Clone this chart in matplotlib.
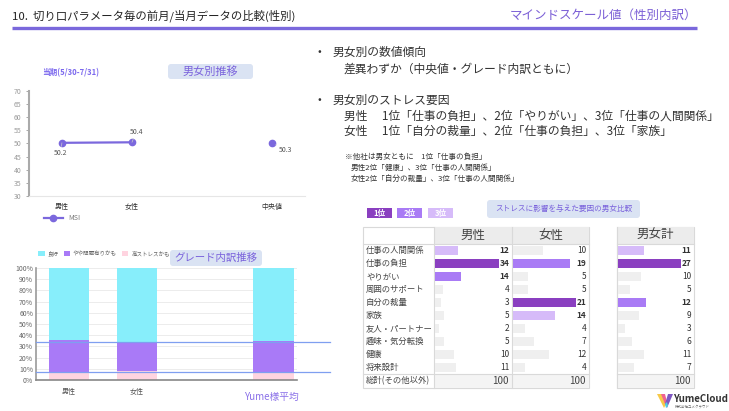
import numpy as np
import matplotlib
matplotlib.use("Agg")
import matplotlib.pyplot as plt
from matplotlib.patches import FancyBboxPatch, Rectangle, Polygon
from matplotlib.transforms import blended_transform_factory

plt.rcParams['font.family'] = ['Noto Sans CJK JP', 'DejaVu Sans']

W, H = 729, 411

# 男女別推移 (MSI)
line_cats = ['男性', '女性', '中央値']
line_x = [0, 1, 3]
msi_gender = [50.2, 50.4]
msi_median = 50.3

# グレード内訳 (%)
grade_cats = ['男性', '女性', '']
grade_x = [0, 1, 3]
grade_high = [7, 8, 7]
grade_mid = [29, 26, 28]
grade_good = [64, 66, 65]
avg_lines = [34, 7]

# ストレスに影響を与えた要因
factors = ['仕事の人間関係', '仕事の負担', 'やりがい', '周囲のサポート', '自分の裁量',
           '家族', '友人・パートナー', '趣味・気分転換', '健康', '将来設計']
male = [12, 34, 14, 4, 3, 5, 2, 5, 10, 11]
female = [10, 19, 5, 5, 21, 14, 4, 7, 12, 4]
total = [11, 27, 10, 5, 12, 9, 3, 6, 11, 7]
col_totals = [100, 100, 100]

PURPLE = '#7b68dd'
RANK_COLORS = ['#8a3fc0', '#a97bf5', '#d6bbf9']
GRAY_BAR = '#efefef'
BORDER = '#d9d9d9'

fig = plt.figure(figsize=(W / 100, H / 100), dpi=100)
fig.patch.set_facecolor('white')


def ax_px(x0, y0, x1, y1):
    a = fig.add_axes([x0 / W, 1 - y1 / H, (x1 - x0) / W, (y1 - y0) / H])
    a.patch.set_alpha(0)
    return a


ov = fig.add_axes([0, 0, 1, 1], zorder=0)
ov.set_xlim(0, W)
ov.set_ylim(H, 0)
ov.axis('off')


def box(x0, y0, x1, y1, text, fs, color='#7a62dc'):
    ov.add_patch(FancyBboxPatch((x0, y0), x1 - x0, y1 - y0,
                                boxstyle='round,pad=0,rounding_size=3',
                                fc='#dae3f3', ec='none', zorder=3))
    ov.text((x0 + x1) / 2, (y0 + y1) / 2, text, fontsize=fs, color=color,
            ha='center', va='center', zorder=4)


# header
ov.text(12, 16, '10.  切り口パラメータ毎の前月/当月データの比較(性別)', fontsize=8.2,
        color='#222222', va='center')
ov.text(697, 15, 'マインドスケール値（性別内訳）', fontsize=9, color='#7b5fd6',
        ha='right', va='center')
ov.plot([12, 697], [28, 28], color='#7a68dc', lw=2.4, solid_capstyle='butt')

# ---- line chart
ax1 = ax_px(29, 90.7, 305, 196)
ax1.plot(line_x[:2], msi_gender, '-o', color=PURPLE, lw=1.6, ms=4.5, label='MSI')
ax1.plot(line_x[2:], [msi_median], 'o', color=PURPLE, ms=4.5)
ax1.set_xlim(-0.47, 3.47)
ax1.set_ylim(30, 70)
ax1.set_yticks(np.arange(30, 71, 5))
ax1.set_xticks(line_x)
ax1.set_xticklabels(line_cats, fontsize=5, color='#333333')
ax1.tick_params(axis='x', length=0, pad=5)
ax1.tick_params(axis='y', labelsize=5, colors='#9a9a9a', length=2, width=0.6)
for s in ['top', 'right']:
    ax1.spines[s].set_visible(False)
ax1.spines['left'].set_color('#aaaaaa')
ax1.spines['left'].set_linewidth(1.5)
ax1.spines['bottom'].set_color('#e6e6e6')
ann = dict(fontsize=5, color='#555555', ha='center', va='center',
           textcoords='offset points',
           arrowprops=dict(arrowstyle='-', color='#cccccc', lw=0.5, shrinkA=0, shrinkB=3))
ax1.annotate(f'{msi_gender[0]}', xy=(line_x[0], msi_gender[0]), xytext=(-1, -7.5), **ann)
ax1.annotate(f'{msi_gender[1]}', xy=(line_x[1], msi_gender[1]), xytext=(3, 7.5), **ann)
ax1.annotate(f'{msi_median}', xy=(line_x[2], msi_median), xytext=(10, -5.5), **ann)
ax1.legend(loc='center left', bbox_to_anchor=(0.03, -0.21), frameon=False,
           fontsize=5, handlelength=2.8, labelcolor='#777777')

box(168, 64, 253, 79, '男女別推移', 8)
ov.text(42, 73, '当期(5/30-7/31)', fontsize=5.5, color='#7b68ee', weight='bold',
        va='center')

# ---- stacked bar chart
ax2 = ax_px(36, 268, 297, 380)
b1 = ax2.bar(grade_x, grade_high, width=0.6, color='#ffd4e0', zorder=2)
b2 = ax2.bar(grade_x, grade_mid, width=0.6, bottom=grade_high, color='#a97af7', zorder=2)
b3 = ax2.bar(grade_x, grade_good, width=0.6,
             bottom=np.add(grade_high, grade_mid), color='#87eefb', zorder=2)
ax2.set_xlim(-0.485, 3.35)
ax2.set_ylim(0, 100)
ax2.set_yticks(np.arange(0, 101, 10))
ax2.set_yticklabels([f'{v}%' for v in range(0, 101, 10)])
ax2.set_xticks(grade_x[:2])
ax2.set_xticklabels(grade_cats[:2], fontsize=5, color='#555555')
ax2.tick_params(axis='x', length=0, pad=6)
ax2.tick_params(axis='y', labelsize=5, colors='#666666', length=0, pad=2)
ax2.grid(axis='y', color='#ececec', lw=0.7, zorder=0)
for s in ['top', 'right']:
    ax2.spines[s].set_visible(False)
ax2.spines['left'].set_color('#999999')
ax2.spines['left'].set_linewidth(1.2)
ax2.spines['bottom'].set_color('#888888')
ax2.spines['bottom'].set_linewidth(1.2)
for v in avg_lines:
    ax2.axhline(v, xmin=0, xmax=(330 - 36) / 261, color='#7f9ff0', lw=0.9,
                clip_on=False, zorder=4)
ax2.legend([b3, b2, b1], ['良好', 'やや問題有りかも', '高ストレスかも'],
           loc='center left', bbox_to_anchor=(-0.01, 1.13), ncol=3, frameon=False,
           fontsize=4, handlelength=1.1, handleheight=1.1, columnspacing=1.0,
           handletextpad=0.5, labelcolor='#666666')
box(170, 250, 262, 266, 'グレード内訳推移', 7.5)
ov.text(271, 397, 'Yume様平均', fontsize=7, color='#8a70e8', ha='center', va='center')

# ---- bullet texts
fs = 8.5
ov.text(318, 52, '•', fontsize=8, va='center', color='#333333')
ov.text(333, 52, '男女別の数値傾向', fontsize=fs, va='center', color='#333333')
ov.text(344, 69, '差異わずか（中央値・グレード内訳ともに）', fontsize=fs, va='center', color='#333333')
ov.text(318, 100, '•', fontsize=8, va='center', color='#333333')
ov.text(333, 100, '男女別のストレス要因', fontsize=fs, va='center', color='#333333')
ov.text(344, 116, '男性　 1位「仕事の負担」、2位「やりがい」、3位「仕事の人間関係」',
        fontsize=fs, va='center', color='#333333')
ov.text(344, 131, '女性　 1位「自分の裁量」、2位「仕事の負担」、3位「家族」',
        fontsize=fs, va='center', color='#333333')
ov.text(345, 157, '※他社は男女ともに　1位「仕事の負担」', fontsize=5.5, va='center', color='#333333')
ov.text(351, 168, '男性2位「健康」、3位「仕事の人間関係」', fontsize=5.5, va='center', color='#333333')
ov.text(351, 179, '女性2位「自分の裁量」、3位「仕事の人間関係」', fontsize=5.5, va='center', color='#333333')

# ---- rank chips
for i, (cx, c) in enumerate(zip([367, 397, 428], RANK_COLORS)):
    ov.add_patch(Rectangle((cx, 208), 25, 10, fc=c, ec='none'))
    ov.text(cx + 12.5, 213, f'{i + 1}位', fontsize=5.5, color='white', weight='bold',
            ha='center', va='center')
box(487, 200, 640, 218, 'ストレスに影響を与えた要因の男女比較', 5.5)

# ---- tables
Y_HEAD, Y_BODY, Y_TOT, Y_END = 227, 244, 374, 388
ROW_H = (Y_TOT - Y_BODY) / len(factors)


def table_frame(x0, x1):
    ov.add_patch(Rectangle((x0, Y_HEAD), x1 - x0, Y_END - Y_HEAD, fc='none', ec=BORDER, lw=0.8))
    ov.plot([x0, x1], [Y_BODY, Y_BODY], color=BORDER, lw=0.8)
    ov.plot([x0, x1], [Y_TOT, Y_TOT], color=BORDER, lw=0.8)


def value_column(x0, x1, name, vals, tot):
    ov.add_patch(Rectangle((x0, Y_HEAD), x1 - x0, Y_BODY - Y_HEAD, fc='#ececec', ec='none'))
    ov.add_patch(Rectangle((x0, Y_TOT), x1 - x0, Y_END - Y_TOT, fc='#f4f4f4', ec='none'))
    ov.plot([x0, x0], [Y_HEAD, Y_END], color=BORDER, lw=0.8)
    ov.text((x0 + x1) / 2, (Y_HEAD + Y_BODY) / 2, name, fontsize=9, color='#444444',
            ha='center', va='center')
    ov.text(x1 - 3, (Y_TOT + Y_END) / 2, f'{tot}', fontsize=7, color='#444444',
            ha='right', va='center')
    order = np.argsort(-np.array(vals), kind='stable')
    colors = [GRAY_BAR] * len(vals)
    for r in range(3):
        colors[order[r]] = RANK_COLORS[r]
    a = ax_px(x0 + 1, Y_BODY, x1, Y_TOT)
    a.barh(range(len(vals)), vals, height=0.68, color=colors)
    a.set_ylim(len(vals) - 0.5, -0.5)
    a.set_xlim(0, max(vals) / 0.83)
    a.axis('off')
    tr = blended_transform_factory(a.transAxes, a.transData)
    for i, v in enumerate(vals):
        a.text(0.965, i, f'{v}', transform=tr, fontsize=6, color='#333333', ha='right',
               va='center', weight='bold' if i in order[:3] else 'normal')


table_frame(363, 589)
for i, f in enumerate(factors):
    ov.text(366, Y_BODY + ROW_H * (i + 0.5), f, fontsize=6, color='#444444', va='center')
ov.text(366, (Y_TOT + Y_END) / 2, '総計(その他以外)', fontsize=6, color='#444444', va='center')
value_column(434, 512, '男性', male, col_totals[0])
value_column(512, 589, '女性', female, col_totals[1])

table_frame(617, 694)
value_column(617, 694, '男女計', total, col_totals[2])

# ---- logo
ov.add_patch(Polygon([[657, 394], [662, 394], [666, 404], [664, 408]], fc='#f7c948', ec='none'))
ov.add_patch(Polygon([[661, 394], [665, 394], [667, 402], [665, 404]], fc='#f06292', ec='none'))
ov.add_patch(Polygon([[668, 394], [673, 394], [667, 408], [665, 404]], fc='#7e57c2', ec='none'))
ov.add_patch(Polygon([[665, 404], [667, 402], [668, 406], [666, 408]], fc='#4dd0e1', ec='none'))
ov.text(673, 399, 'YumeCloud', fontsize=7, weight='bold', color='#333333', va='center')
ov.text(675, 406.5, '株式会社ユメクラウド', fontsize=2.5, color='#666666', va='center')

fig.savefig('out.png', dpi=100, facecolor='white')
